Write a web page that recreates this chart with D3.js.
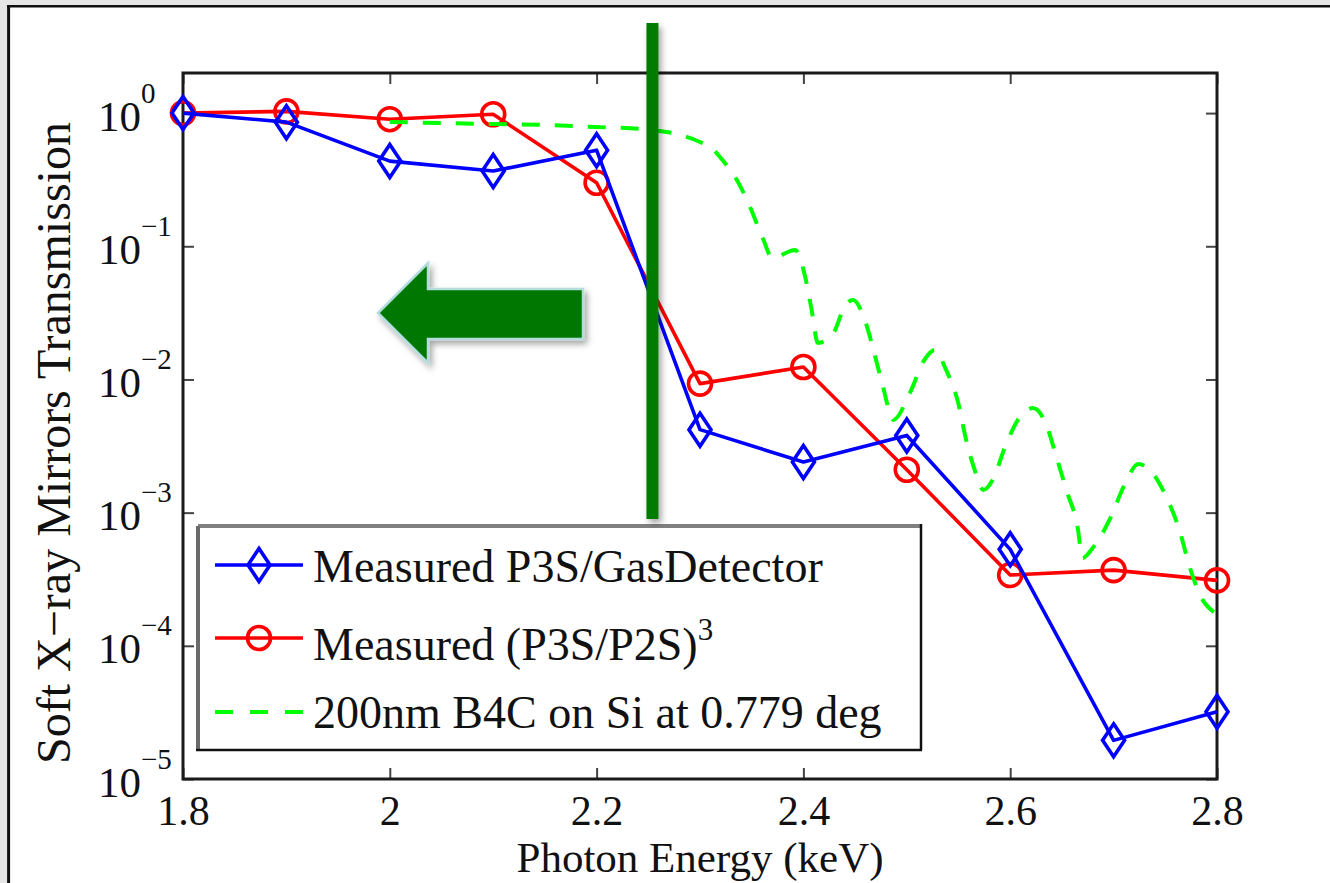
<!DOCTYPE html>
<html>
<head>
<meta charset="utf-8">
<script src="https://cdn.jsdelivr.net/npm/d3@7"></script>
<style>
  html, body { margin: 0; padding: 0; background: #ffffff; }
  svg { display: block; }
  text { font-family: "Liberation Serif", "Times New Roman", serif; fill: #111; }
</style>
</head>
<body>
<svg id="chart" width="1330" height="883"></svg>
<script>
// ---------------- data ----------------
const energies = [1.8, 1.9, 2.0, 2.1, 2.2, 2.3, 2.4, 2.5, 2.6, 2.7, 2.8];
const gasDetector = [1.0, 0.855, 0.436, 0.367, 0.527, 0.0042, 0.0024, 0.0038, 0.00053, 0.0000195, 0.000032];
const ratioCubed = [1.0, 1.03, 0.90, 0.98, 0.30, 0.0093, 0.0124, 0.0021, 0.00034, 0.00037, 0.00031];

const simEnergy = [2.000, 2.049, 2.100, 2.150, 2.199, 2.242, 2.281, 2.300, 2.312, 2.324, 2.334, 2.348,
  2.361, 2.370, 2.392, 2.402, 2.408, 2.414, 2.429, 2.440, 2.448, 2.459, 2.468, 2.477, 2.487,
  2.503, 2.517, 2.527, 2.538, 2.550, 2.557, 2.566, 2.574, 2.583, 2.595, 2.610, 2.622, 2.635,
  2.645, 2.655, 2.665, 2.670, 2.679, 2.696, 2.710, 2.724, 2.735, 2.752, 2.764, 2.773, 2.785, 2.797];
const simTransmission = [0.857, 0.843, 0.828, 0.814, 0.786, 0.760, 0.685, 0.607, 0.538, 0.422, 0.331, 0.2006,
  0.1134, 0.0816, 0.0937, 0.0578, 0.0332, 0.0188, 0.0223, 0.0356, 0.0395, 0.0285, 0.0164, 0.00879, 0.00497,
  0.00793, 0.01403, 0.01668, 0.01179, 0.00654, 0.00363, 0.00205, 0.00148, 0.00176, 0.00311, 0.00532, 0.0061, 0.00455,
  0.00257, 0.00143, 0.000793, 0.000456, 0.000533, 0.000881, 0.00158, 0.00232, 0.00209, 0.00126, 0.000726, 0.000404, 0.000229, 0.000179];

const xTicks = [1.8, 2.0, 2.2, 2.4, 2.6, 2.8];
const xTickLabels = ["1.8", "2", "2.2", "2.4", "2.6", "2.8"];
const yTicks = [1, 1e-1, 1e-2, 1e-3, 1e-4, 1e-5];
const yTickExponents = ["0", "\u22121", "\u22122", "\u22123", "\u22124", "\u22125"];

const legendLabels = ["Measured P3S/GasDetector", "Measured (P3S/P2S)", "200nm B4C on Si at 0.779 deg"];
const xLabel = "Photon Energy (keV)";
const yLabel = "Soft X\u2212ray Mirrors Transmission";
const cutoffEnergy = 2.254;

// ---------------- layout ----------------
const W = 1330, H = 883;
const L = 183, R = 1217, T = 73, B = 779;
const svg = d3.select("#chart");

const x = d3.scaleLinear().domain([1.8, 2.8]).range([L, R]);
const y = d3.scaleLog().domain([1e-5, 2]).range([B, T]);

// filters
const defs = svg.append("defs");
const f = defs.append("filter").attr("id", "shadow")
  .attr("filterUnits", "userSpaceOnUse").attr("x", 0).attr("y", 0).attr("width", W).attr("height", H);
f.append("feDropShadow").attr("dx", 3).attr("dy", 4).attr("stdDeviation", 3).attr("flood-color", "#000").attr("flood-opacity", 0.35);

// outer frame (image border)
svg.append("rect").attr("x", 0).attr("y", 0).attr("width", W).attr("height", 5).attr("fill", "#e6e6e6");
svg.append("rect").attr("x", 0).attr("y", 0).attr("width", 7).attr("height", H).attr("fill", "#e6e6e6");
svg.append("line").attr("x1", 7).attr("x2", W).attr("y1", 6.2).attr("y2", 6.2).attr("stroke", "#111").attr("stroke-width", 2.5);
svg.append("line").attr("x1", 8.6).attr("x2", 8.6).attr("y1", 5).attr("y2", H).attr("stroke", "#111").attr("stroke-width", 3);

// ---------------- axes ----------------
const tickLen = 11;
const gB = svg.append("g").attr("transform", `translate(0,${B})`)
  .call(d3.axisBottom(x).tickValues(xTicks).tickSizeInner(-tickLen).tickSizeOuter(0)
    .tickFormat((d, i) => xTickLabels[i]));
const gT = svg.append("g").attr("transform", `translate(0,${T})`)
  .call(d3.axisTop(x).tickValues(xTicks).tickSizeInner(-tickLen).tickSizeOuter(0).tickFormat(""));
const gL = svg.append("g").attr("transform", `translate(${L},0)`)
  .call(d3.axisLeft(y).tickValues(yTicks).tickSizeInner(-tickLen).tickSizeOuter(0).tickFormat(""));
const gR = svg.append("g").attr("transform", `translate(${R},0)`)
  .call(d3.axisRight(y).tickValues(yTicks).tickSizeInner(-tickLen).tickSizeOuter(0).tickFormat(""));

[gB, gT, gL, gR].forEach(g => {
  g.select(".domain").remove();
  g.selectAll(".tick line").attr("stroke", "#444").attr("stroke-width", 2);
});
gB.selectAll(".tick text")
  .attr("y", 46).attr("dy", 0)
  .style("font-size", "42px").style("font-family", "Liberation Serif, Times New Roman, serif").attr("fill", "#111");

gL.selectAll(".tick").each(function(d, i) {
  const t = d3.select(this).append("text")
    .attr("x", -85).attr("y", 17).attr("text-anchor", "start")
    .attr("fill", "#111").style("font-size", "43px");
  t.append("tspan").text("10");
  t.append("tspan").attr("dy", -28).style("font-size", "29px").text(yTickExponents[i]);
});

// plot box
svg.append("rect").attr("x", L).attr("y", T).attr("width", R - L).attr("height", B - T)
  .attr("fill", "none").attr("stroke", "#1a1a1a").attr("stroke-width", 3);

// ---------------- series ----------------
const lineGen = d3.line().x(d => x(d[0])).y(d => y(d[1]));
const blueData = energies.map((e, i) => [e, gasDetector[i]]);
const redData = energies.map((e, i) => [e, ratioCubed[i]]);
const greenData = simEnergy.map((e, i) => [e, simTransmission[i]]);

const diamond = (w, h) => `M0,${-h/2}L${w/2},0L0,${h/2}L${-w/2},0Z`;

svg.append("path").datum(redData).attr("d", lineGen)
  .attr("fill", "none").attr("stroke", "#ff0000").attr("stroke-width", 3.6).attr("stroke-linejoin", "round");
svg.append("g").selectAll("circle").data(redData).join("circle")
  .attr("cx", d => x(d[0])).attr("cy", d => y(d[1])).attr("r", 11.5)
  .attr("fill", "none").attr("stroke", "#ff0000").attr("stroke-width", 3.6);

svg.append("path").datum(blueData).attr("d", lineGen)
  .attr("fill", "none").attr("stroke", "#0000ff").attr("stroke-width", 3.6).attr("stroke-linejoin", "round");
svg.append("g").selectAll("path").data(blueData).join("path")
  .attr("transform", d => `translate(${x(d[0])},${y(d[1])})`)
  .attr("d", diamond(22, 33))
  .attr("fill", "none").attr("stroke", "#0000ff").attr("stroke-width", 3.6);

svg.append("path").datum(greenData)
  .attr("d", d3.line().x(d => x(d[0])).y(d => y(d[1])).curve(d3.curveMonotoneX))
  .attr("fill", "none").attr("stroke", "#00ff00").attr("stroke-width", 4)
  .attr("stroke-dasharray", "18,15");

// ---------------- legend ----------------
const lg = svg.append("g");
const lx0 = 198, ly0 = 526, lx1 = 921, ly1 = 750;
lg.append("rect").attr("x", lx0).attr("y", ly0).attr("width", lx1 - lx0).attr("height", ly1 - ly0).attr("fill", "#fff");
lg.append("line").attr("x1", lx0).attr("x2", lx1).attr("y1", ly0).attr("y2", ly0).attr("stroke", "#808080").attr("stroke-width", 4);
lg.append("line").attr("x1", lx0).attr("x2", lx0).attr("y1", ly0).attr("y2", ly1).attr("stroke", "#6a6a6a").attr("stroke-width", 4);
lg.append("line").attr("x1", lx0 - 2).attr("x2", lx1 + 1).attr("y1", ly1).attr("y2", ly1).attr("stroke", "#111").attr("stroke-width", 2.5);
lg.append("line").attr("x1", lx1).attr("x2", lx1).attr("y1", ly0 - 2).attr("y2", ly1).attr("stroke", "#111").attr("stroke-width", 2.5);

const rows = [565, 638, 712];
const baselines = [582, 660, 728];
const colors = ["#0000ff", "#ff0000", "#00ff00"];
rows.forEach((ry, i) => {
  const ln = lg.append("line").attr("x1", 215).attr("x2", 303).attr("y1", ry).attr("y2", ry)
    .attr("stroke", colors[i]).attr("stroke-width", i === 2 ? 4 : 3.6);
  if (i === 2) ln.attr("stroke-dasharray", "18,17");
  if (i === 0) lg.append("path").attr("transform", `translate(259,${ry})`).attr("d", diamond(22, 33))
    .attr("fill", "none").attr("stroke", colors[i]).attr("stroke-width", 3.6);
  if (i === 1) lg.append("circle").attr("cx", 259).attr("cy", ry).attr("r", 11.5)
    .attr("fill", "none").attr("stroke", colors[i]).attr("stroke-width", 3.6);
  const t = lg.append("text").attr("x", 313).attr("y", baselines[i]).style("font-size", "46px").attr("fill", "#111");
  t.append("tspan").text(legendLabels[i]);
  if (i === 1) t.append("tspan").attr("dy", -20).style("font-size", "31px").text("3");
});

// ---------------- axis labels ----------------
svg.append("text").attr("x", 700).attr("y", 872).attr("text-anchor", "middle")
  .style("font-size", "43px").text(xLabel);
svg.append("text").attr("transform", "translate(70,443) rotate(-90)").attr("text-anchor", "middle")
  .style("font-size", "48px").text(yLabel);

// ---------------- annotations ----------------
const barX = x(cutoffEnergy);
svg.append("rect").attr("x", barX - 6).attr("y", 23).attr("width", 12).attr("height", 496)
  .attr("fill", "#007d00").attr("filter", "url(#shadow)");

const arrowPts = [[378, 313], [428, 263], [428, 289], [583, 289], [583, 339], [428, 339], [428, 363]];
svg.append("path").attr("d", "M" + arrowPts.map(p => p.join(",")).join("L") + "Z")
  .attr("fill", "#007800").attr("stroke", "#b4dcdc").attr("stroke-width", 2.5)
  .attr("stroke-linejoin", "miter").attr("filter", "url(#shadow)");
</script>
</body>
</html>
